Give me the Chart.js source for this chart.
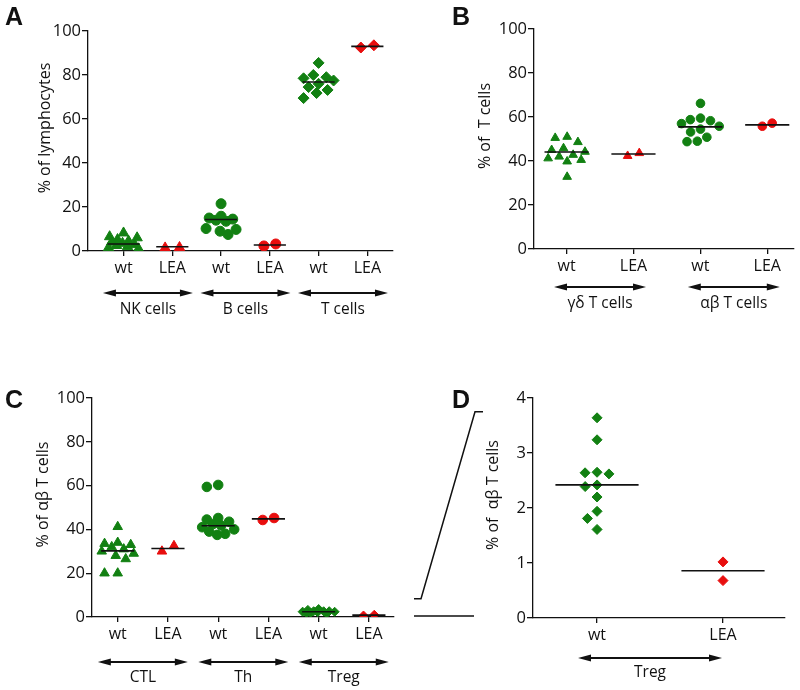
<!DOCTYPE html>
<html>
<head>
<meta charset="utf-8">
<script src="https://cdn.jsdelivr.net/npm/chart.js@4.4.1/dist/chart.umd.min.js"></script>
<style>
  body { margin: 0; background: #fff; }
  #wrap { position: relative; width: 800px; height: 690px; }
  canvas { position: absolute; }
</style>
</head>
<body>
<div id="wrap">
  <canvas id="panelA" width="400" height="330" style="left:0;top:0"></canvas>
  <canvas id="panelB" width="400" height="330" style="left:400px;top:0"></canvas>
  <canvas id="panelC" width="400" height="360" style="left:0;top:330px"></canvas>
  <canvas id="panelD" width="400" height="360" style="left:400px;top:330px"></canvas>
</div>
<script>
const GREEN = "rgb(18,128,18)"
const RED = "rgb(232,14,14)"
const FONT = "'Open Sans', sans-serif"

// A: % of lymphocytes
const catsA = ["wt", "LEA", "wt", "LEA", "wt", "LEA"]
const groupsA = ["NK cells", "B cells", "T cells"]
const nkWt = [8.2, 6.5, 6.0, 5.2, 4.5, 4.0, 3.5, 3.0, 2.5, 2.0, 1.5, 1.0]
const nkLea = [1.4, 1.6]
const bWt = [21.5, 15.8, 15.0, 14.5, 14.0, 13.5, 10.2, 9.8, 9.0, 7.5]
const bLea = [2.3, 3.2]
const tWt = [85.5, 80.0, 79.0, 78.5, 77.5, 76.0, 74.5, 73.2, 71.8, 69.5]
const tLea = [92.5, 93.5]
const centersA = [3.2, 1.9, 14.3, 2.7, 76.8, 93.0]

// B: % of T cells
const catsB = ["wt", "LEA", "wt", "LEA"]
const groupsB = ["γδ T cells", "αβ T cells"]
const gdWt = [51.0, 50.5, 48.6, 45.8, 45.0, 44.2, 42.8, 42.0, 41.2, 40.5, 39.8, 32.8]
const gdLea = [42.3, 43.6]
const abWt = [66.2, 59.5, 58.8, 58.3, 57.0, 55.8, 54.5, 53.2, 50.8, 49.0, 48.8]
const abLea = [55.8, 57.2]
const centersB = [44.1, 43.2, 55.5, 56.4]

// D: Treg, % of ab T cells (also used for the Treg columns of C)
const catsD = ["wt", "LEA"]
const groupsD = ["Treg"]
const tregWt = [3.64, 3.24, 2.65, 2.64, 2.62, 2.42, 2.39, 2.20, 1.94, 1.81, 1.61]
const tregLea = [1.02, 0.68]
const centersD = [2.42, 0.86]

// C: % of ab T cells
const catsC = ["wt", "LEA", "wt", "LEA", "wt", "LEA"]
const groupsC = ["CTL", "Th", "Treg"]
const ctlWt = [41.2, 34.0, 33.5, 33.0, 32.0, 31.0, 30.0, 29.0, 28.0, 26.5, 20.0, 20.0]
const ctlLea = [30.0, 32.5]
const thWt = [60.3, 59.4, 45.2, 44.5, 43.5, 42.5, 41.8, 41.0, 40.0, 39.0, 38.0, 37.5]
const thLea = [44.3, 45.2]
const centersC = [30.2, 31.3, 41.7, 44.8, 2.42, 0.86]

// spread overlapping points sideways (beeswarm, capped width, recentred)
const swarmPlugin = {
  id: "swarm",
  afterDatasetsUpdate(chart) {
    chart.data.datasets.forEach((ds, di) => {
      if (!ds.swarm) return
      const pts = chart.getDatasetMeta(di).data
      const d = ds.swarmGap, max = ds.swarmMax
      const idx = pts.map((p, i) => i).sort((a, b) => pts[a].y - pts[b].y)
      const placed = []
      const offs = []
      idx.forEach(i => {
        const y = pts[i].y
        const near = placed.filter(p => Math.abs(p.y - y) < d)
          .map(p => ({ dx: p.dx, dy: p.y - y, w: Math.sqrt(d * d - (p.y - y) ** 2) }))
        const cands = [0]
        near.forEach(p => cands.push(p.dx - p.w, p.dx + p.w))
        cands.sort((a, b) => Math.abs(a) - Math.abs(b))
        let dx = cands.find(c => Math.abs(c) <= max && near.every(p => Math.abs(c - p.dx) >= p.w - 0.01))
        if (dx === undefined) {
          let best = -1
          for (let c = -max; c <= max; c += 1) {
            const m = Math.min(...near.map(p => Math.hypot(c - p.dx, p.dy)))
            if (m > best) { best = m; dx = c }
          }
        }
        placed.push({ y, dx })
        offs[i] = dx
      })
      const shift = (Math.min(...offs) + Math.max(...offs)) / 2
      pts.forEach((p, i) => { p.x += offs[i] - shift })
    })
  }
}

function drawArrow(ctx, x1, x2, y) {
  const hl = 13, hw = 3.5
  ctx.beginPath()
  ctx.moveTo(x1 + hl - 2, y)
  ctx.lineTo(x2 - hl + 2, y)
  ctx.lineWidth = 2.2
  ctx.stroke()
  ctx.beginPath()
  ctx.moveTo(x1, y); ctx.lineTo(x1 + hl, y - hw); ctx.lineTo(x1 + hl, y + hw); ctx.closePath()
  ctx.moveTo(x2, y); ctx.lineTo(x2 - hl, y - hw); ctx.lineTo(x2 - hl, y + hw); ctx.closePath()
  ctx.fill()
}

const panelPlugin = {
  id: "panel",
  afterDraw(chart, args, o) {
    const { ctx, chartArea: ca, scales } = chart
    ctx.save()
    ctx.fillStyle = "#111"
    ctx.strokeStyle = "#111"

    ctx.font = "bold 25px 'Liberation Sans', Arial, sans-serif"
    ctx.textAlign = "left"
    ctx.textBaseline = "alphabetic"
    ctx.fillText(o.letter, o.letterX, o.letterY)

    ctx.save()
    ctx.translate(ca.left + o.titleDx, (ca.top + ca.bottom) / 2 - 13)
    ctx.rotate(-Math.PI / 2)
    ctx.font = "16px " + FONT
    ctx.textAlign = "center"
    ctx.textBaseline = "middle"
    ctx.fillText(o.title, 0, 0)
    ctx.restore()

    ctx.font = "15.5px " + FONT
    ctx.textAlign = "center"
    ctx.textBaseline = "middle"
    o.groups.forEach((g, i) => {
      const c = (scales.x.getPixelForValue(2 * i + 1) + scales.x.getPixelForValue(2 * i + 2)) / 2 + (o.shift || 0)
      drawArrow(ctx, c - o.half, c + o.half, ca.bottom + o.arrowDy)
      ctx.fillText(g, c, ca.bottom + o.labelDy)
    })

    if (o.bracket) {
      const y = scales.y
      ctx.lineWidth = 1.5
      ctx.beginPath()
      ctx.moveTo(ca.left - 119, y.getPixelForValue(0.35))
      ctx.lineTo(ca.left - 112, y.getPixelForValue(0.35))
      ctx.lineTo(ca.left - 58, y.getPixelForValue(3.75))
      ctx.lineTo(ca.left - 50, y.getPixelForValue(3.75))
      ctx.moveTo(ca.left - 119, y.getPixelForValue(0) - 2)
      ctx.lineTo(ca.left - 59, y.getPixelForValue(0) - 2)
      ctx.stroke()
    }
    ctx.restore()
  }
}

function buildDatasets(series, centers, shapes, sizes, spread) {
  const out = []
  centers.forEach((m, i) => {
    out.push({
      data: [{ x: i + 1 - 0.33, y: m }, { x: i + 1 + 0.33, y: m }],
      showLine: true, pointRadius: 0, borderColor: "#111", borderWidth: 1.6, order: 0
    })
  })
  series.forEach((vals, i) => {
    const col = i % 2 ? RED : GREEN
    out.push({
      data: vals.map(v => ({ x: i + 1, y: v })),
      swarm: true, swarmGap: sizes[i] * 2.4, swarmMax: spread,
      pointStyle: shapes[i], pointRadius: sizes[i],
      backgroundColor: col, borderColor: col, borderWidth: 1, order: 1
    })
  })
  return out
}

function makePanel(id, p) {
  return new Chart(document.getElementById(id), {
    type: "scatter",
    data: { datasets: buildDatasets(p.series, p.centers, p.shapes, p.sizes, p.spread) },
    options: {
      responsive: false,
      animation: false,
      events: [],
      layout: { padding: { left: 0, top: p.top, right: p.right, bottom: 0 } },
      plugins: { legend: { display: false }, tooltip: { enabled: false }, panel: p.panel },
      scales: {
        x: {
          type: "linear", min: p.xMin, max: p.xMax,
          afterFit: s => { s.height = p.xH },
          afterBuildTicks: s => { s.ticks = p.cats.map((c, i) => ({ value: i + 1 })) },
          ticks: {
            callback: v => p.cats[Math.round(v) - 1], autoSkip: false, maxRotation: 0,
            padding: 3, color: "#111", font: { family: FONT, size: 16 }
          },
          grid: { drawOnChartArea: false, tickLength: 5, color: "#111", lineWidth: 1.3 },
          border: { color: "#111", width: 1.3 }
        },
        y: {
          min: 0, max: p.yMax,
          afterFit: s => { s.width = p.yW },
          ticks: { stepSize: p.yStep, padding: 1, color: "#111", font: { family: FONT, size: 16.5 } },
          grid: { drawOnChartArea: false, tickLength: 6, color: "#111", lineWidth: 1.3 },
          border: { color: "#111", width: 1.3 }
        }
      }
    },
    plugins: [swarmPlugin, panelPlugin]
  })
}

makePanel("panelA", {
  series: [nkWt, nkLea, bWt, bLea, tWt, tLea], centers: centersA, cats: catsA,
  shapes: ["triangle", "triangle", "circle", "circle", "rectRot", "rectRot"],
  sizes: [6, 6, 5, 5, 5.5, 5.5], spread: 15,
  top: 31, right: 3, yW: 88, xH: 79, xMin: 0.271, xMax: 6.526, yMax: 100, yStep: 20,
  panel: { letter: "A", letterX: 5, letterY: 25, title: "% of lymphocytes", titleDx: -43,
           groups: groupsA, half: 45, arrowDy: 42, labelDy: 59 }
})

makePanel("panelB", {
  series: [gdWt, gdLea, abWt, abLea], centers: centersB, cats: catsB,
  shapes: ["triangle", "triangle", "circle", "circle"],
  sizes: [5, 5, 4.3, 4.3], spread: 19,
  top: 29, right: 3, yW: 134, xH: 81, xMin: 0.513, xMax: 4.4, yMax: 100, yStep: 20,
  panel: { letter: "B", letterX: 52, letterY: 25, title: "% of  T cells", titleDx: -49,
           groups: groupsB, half: 46, arrowDy: 38, labelDy: 55 }
})

makePanel("panelC", {
  series: [ctlWt, ctlLea, thWt, thLea, tregWt, tregLea], centers: centersC, cats: catsC,
  shapes: ["triangle", "triangle", "circle", "circle", "rectRot", "rectRot"],
  sizes: [5.5, 5.5, 4.8, 4.8, 4.5, 4.5], spread: 16,
  top: 68, right: 3, yW: 92, xH: 73, xMin: 0.488, xMax: 6.49, yMax: 100, yStep: 20,
  panel: { letter: "C", letterX: 5, letterY: 78, title: "% of αβ T cells", titleDx: -49,
           groups: groupsC, half: 45, arrowDy: 45, labelDy: 61 }
})

makePanel("panelD", {
  series: [tregWt, tregLea], centers: centersD, cats: catsD,
  shapes: ["rectRot", "rectRot"],
  sizes: [5, 5], spread: 16,
  top: 68, right: 15, yW: 133, xH: 72, xMin: 0.492, xMax: 2.492, yMax: 4, yStep: 1,
  panel: { letter: "D", letterX: 52, letterY: 78, title: "% of  αβ T cells", titleDx: -40,
           groups: groupsD, half: 72, shift: -10, arrowDy: 40, labelDy: 55, bracket: true }
})
</script>
</body>
</html>
